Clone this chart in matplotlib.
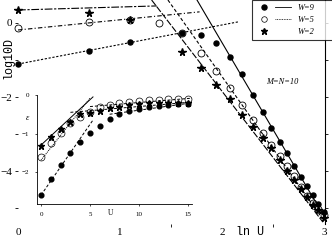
import numpy as np
import matplotlib.pyplot as plt
from matplotlib.lines import Line2D
from matplotlib.legend_handler import HandlerTuple

# main panel: log10 D vs ln U
U9 = [1, 2, 3, 5, 6, 7, 8, 9, 10, 11, 12, 13, 14, 15, 16, 17, 18, 19, 20]
D9 = [-1.11, -0.76, -0.51, -0.27, -0.32, -0.54, -0.92, -1.38, -1.95, -2.41,
      -2.84, -3.22, -3.51, -3.86, -4.16, -4.41, -4.65, -4.89, -5.11]
U5 = [1, 2, 3, 4, 5, 6, 7, 8, 9, 10, 11, 12, 13, 14, 15, 16, 17, 18, 19, 20]
D5 = [-0.14, 0.03, 0.08, 0.0, -0.27, -0.81, -1.30, -1.76, -2.22, -2.62,
      -2.97, -3.30, -3.59, -3.86, -4.14, -4.43, -4.68, -4.86, -5.03, -5.19]
U2 = [1, 2, 3, 5, 6, 7, 8, 9, 10, 11, 12, 13, 14, 15, 16, 17, 18, 19, 20]
D2 = [0.35, 0.27, 0.08, -0.78, -1.22, -1.68, -2.05, -2.49, -2.81, -3.11,
      -3.38, -3.70, -4.00, -4.24, -4.49, -4.70, -4.92, -5.05, -5.27]

# fitted straight lines (end points)
fit9_lo = ([0, 2.16], [-1.11, 0.03])
fit5_lo = ([0, 1.78], [-0.19, 0.30])
fit2_lo = ([0, 1.36], [0.35, 0.46])
fit9_hi = ([1.755, 3.01], [0.62, -5.27])
fit5_hi = ([1.47, 2.96], [0.62, -5.19])
fit2_hi = ([1.31, 2.99], [0.62, -5.38])

# inset: epsilon vs U
Uin = [0, 1, 2, 3, 4, 5, 6, 7, 8, 9, 10, 11, 12, 13, 14, 15]
e9 = [-2.60, -2.18, -1.82, -1.51, -1.22, -0.99, -0.81, -0.62, -0.49, -0.42,
      -0.36, -0.31, -0.29, -0.26, -0.23, -0.23]
e5 = [-1.61, -1.25, -0.99, -0.73, -0.57, -0.44, -0.31, -0.26, -0.21, -0.18,
      -0.16, -0.13, -0.13, -0.10, -0.10, -0.10]
e2 = [-1.32, -1.09, -0.88, -0.70, -0.49, -0.47, -0.41, -0.35, -0.30, -0.26,
      -0.24, -0.21, -0.21, -0.21, -0.21, -0.21]
in2_lin = ([0, 5.3], [-1.30, -0.05])
in5_lin = ([0, 5.0], [-1.69, -0.08])
in9_lin = ([0, 5.3], [-2.60, -0.65])
in2_pl = ([3, 15.5], [-0.45, -0.18])
in5_pl = ([5, 15.5], [-0.30, -0.08])
in9_pl = ([7, 15.5], [-0.50, -0.20])

serif = 'Liberation Serif'
mono = 'Liberation Mono'

fig = plt.figure(figsize=(3.32, 2.42), dpi=100)
ax = fig.add_axes((18/332, 18/242, 307/332, 224/242))
ax.set_xlim(0, 3.01)
ax.set_ylim(-5.43, 0.62)
for s in ['left', 'top', 'bottom']:
    ax.spines[s].set_visible(False)
ax.spines['right'].set_linewidth(0.8)

lw = 0.8
ax.plot(*fit9_lo, color='k', lw=lw, ls=(0, (2, 1.5)))
ax.plot(*fit5_lo, color='k', lw=lw, ls=(0, (4, 2, 1, 2)))
ax.plot(*fit2_lo, color='k', lw=lw, ls=(0, (7, 1.5, 2, 1.5)))
ax.plot(*fit9_hi, color='k', lw=lw, ls='-')
ax.plot(*fit5_hi, color='k', lw=lw, ls=(0, (3, 2)))
ax.plot(*fit2_hi, color='k', lw=lw, ls=(0, (6, 1.5)))

ax.plot(np.log(U9), D9, 'o', ms=3.6, color='k', clip_on=False)
ax.plot(np.log(U5), D5, 'o', ms=5, mfc='none', mec='k', mew=0.6, clip_on=False)
ax.plot(np.log(U2), D2, '*', ms=5.5, color='k', clip_on=False)

ax.set_xticks([0, 1, 2, 3])
ax.set_xticks([1.5, 2.5], minor=True)
ax.set_yticks([0, -2, -4])
ax.set_yticks([-1, -3, -5], minor=True)
ax.tick_params(axis='x', which='both', direction='out', length=2, width=0.6, pad=3,
               labelsize=8)
ax.tick_params(axis='x', which='major', length=0)
ax.tick_params(axis='y', which='both', direction='out', length=2, width=0.6, pad=2,
               labelsize=8, right=True)
for lab in ax.get_xticklabels() + ax.get_yticklabels():
    lab.set_family(serif)

ax.text(250/332, 1 - 232/242, 'ln U', transform=fig.transFigure, family=mono,
        fontsize=8.5, ha='center', va='center')
ax.text(8/332, 1 - 58/242, 'log10D', transform=fig.transFigure, family=mono,
        fontsize=8.5, rotation=90, ha='center', va='center')
ax.text(282/332, 1 - 82/242, 'M=N=10', transform=fig.transFigure, family=serif,
        style='italic', fontsize=6, ha='center', va='center')

h9 = (Line2D([], [], marker='o', ms=3.6, color='k', ls='none'),
      Line2D([], [], color='k', lw=0.6))
h5 = (Line2D([], [], marker='o', ms=4, mfc='none', mec='k', mew=0.5, ls='none'),
      Line2D([], [], color='k', lw=0.6, ls=(0, (1, 1))))
h2 = (Line2D([], [], marker='*', ms=4.5, color='k', ls='none'),
      Line2D([], [], color='none', lw=0.6))
leg = fig.legend([h9, h5, h2], ['W=9', 'W=5', 'W=2'],
                 handler_map={tuple: HandlerTuple(ndivide=None, pad=0.4)},
                 loc='upper left', bbox_to_anchor=(252/332, 1 - 48/242, 0.3, 48/242),
                 mode='expand', borderaxespad=0, fancybox=False, frameon=True,
                 handlelength=4.2, handletextpad=0.8, labelspacing=0.45,
                 borderpad=0.5, prop={'family': serif, 'style': 'italic', 'size': 6})
leg.get_frame().set_edgecolor('k')
leg.get_frame().set_linewidth(0.8)

# inset
ins = fig.add_axes((37/332, 1 - 204/242, 155/332, 109/242))
ins.patch.set_alpha(0)
ins.set_xlim(-0.41, 15.4)
ins.set_ylim(-2.83, 0.0)
ins.spines['top'].set_visible(False)
ins.spines['right'].set_visible(False)
for s in ['left', 'bottom']:
    ins.spines[s].set_linewidth(0.6)
ins.plot(*in9_lin, color='k', lw=0.7, ls=(0, (3, 2)))
ins.plot(*in5_lin, color='k', lw=0.7, ls=(0, (1, 1)))
ins.plot(*in2_lin, color='k', lw=0.7, ls='-')
ins.plot(*in9_pl, color='k', lw=0.7, ls=(0, (3, 2)))
ins.plot(*in5_pl, color='k', lw=0.7, ls=(0, (3, 2)))
ins.plot(*in2_pl, color='k', lw=0.7, ls=(0, (3, 2)))
ins.plot(Uin, e9, 'o', ms=3.4, color='k', clip_on=False)
ins.plot(Uin, e5, 'o', ms=5, mfc='none', mec='k', mew=0.5, clip_on=False)
ins.plot(Uin, e2, '*', ms=5, color='k', clip_on=False)
ins.set_xticks([0, 5, 10, 15])
ins.set_yticks([0, -1, -2])
ins.tick_params(direction='out', length=1.5, width=0.5, pad=4, labelsize=5)
for lab in ins.get_xticklabels() + ins.get_yticklabels():
    lab.set_family(serif)
ins.text(111/332, 1 - 213/242, 'U', transform=fig.transFigure, family=serif,
         fontsize=5.5, ha='center', va='center')
ins.text(27/332, 1 - 118/242, 'ε', transform=fig.transFigure, family=serif,
         style='italic', fontsize=6, ha='center', va='center')

fig.savefig('out.png', dpi=100)
